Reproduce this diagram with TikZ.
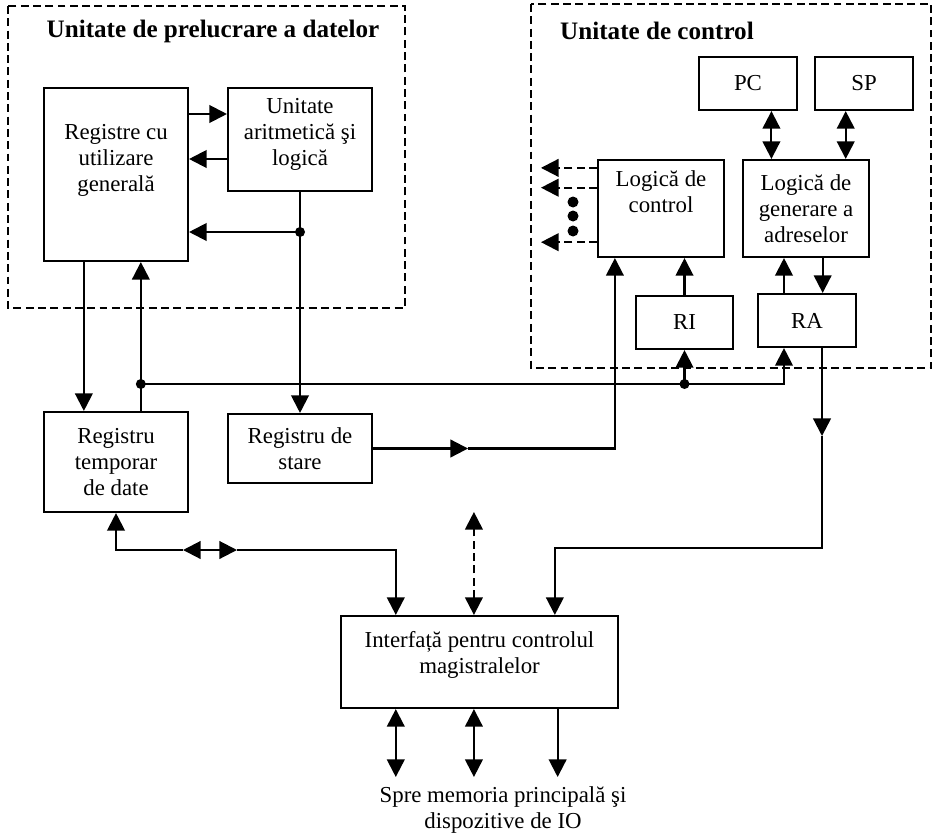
\documentclass[tikz,border=0pt]{standalone}
\usepackage{fontspec}
\setmainfont{Liberation Serif}
\usetikzlibrary{calc,arrows.meta}

\tikzset{
    txt/.style={align=center, inner sep=0pt, font=\fontsize{13pt}{14.8pt}\selectfont},
    box/.style={txt, draw, line width=1.2pt},
    arr/.style={line width=1.2pt, -{Triangle[length=10pt,width=10pt]}},
    darr/.style={line width=1.2pt, {Triangle[length=10pt,width=10pt]}-{Triangle[length=10pt,width=10pt]}},
    unitframe/.style={line width=1.2pt, dash pattern=on 4.5pt off 2.5pt},
    ctrl/.style={dash pattern=on 4.5pt off 2.5pt},
    title/.style={font=\fontsize{14.3pt}{16pt}\selectfont\bfseries},
}

\begin{document}
\begin{tikzpicture}[x=0.02cm, y=-0.02cm]
    \useasboundingbox (0,0) rectangle (945,838);

    % Dashed frames of the two units
    \draw[unitframe] (8,6) rectangle (405,308);
    \draw[unitframe] (531,4) rectangle (931,368);
    \node[title] (t1) at (213,31) {Unitate de prelucrare a datelor};
    \node[title] (t2) at (657,31) {Unitate de control};

    % Data processing unit
    \node[box, minimum width=2.88cm, minimum height=3.46cm] (rg) at (116,174.5) {Registre cu\\utilizare\\generală\\[4pt]\mbox{}};
    \node[box, minimum width=2.88cm, minimum height=2.06cm] (alu) at (300,139.5) {Unitate\\aritmetică şi\\logică\\[-6pt]\mbox{}};
    \node[box, minimum width=2.88cm, minimum height=2cm] (rt) at (116,462) {Registru\\temporar\\de date};
    \node[box, minimum width=2.88cm, minimum height=1.38cm] (rs) at (300,448.5) {Registru de\\stare};

    % Control unit
    \node[box, minimum width=1.96cm, minimum height=1.06cm] (pc) at (748,83.5) {PC};
    \node[box, minimum width=1.96cm, minimum height=1.06cm] (sp) at (864,83.5) {SP};
    \node[box, minimum width=2.52cm, minimum height=1.94cm] (lc) at (661,208.5) {Logică de\\control\\[5pt]\mbox{}};
    \node[box, minimum width=2.52cm, minimum height=1.94cm] (ag) at (806,208.5) {Logică de\\generare a\\adreselor};
    \node[box, minimum width=1.94cm, minimum height=1.06cm] (ri) at (684.5,322.5) {RI};
    \node[box, minimum width=1.96cm, minimum height=1.06cm] (ra) at (807,320.5) {RA};

    % Bus interface
    \node[box, minimum width=5.54cm, minimum height=1.84cm] (ifc) at (479.5,662) {Interfață pentru controlul\\magistralelor\\[-4pt]\mbox{}};
    \node[txt, anchor=north] (mem) at (503,786) {Spre memoria principală şi\\dispozitive de IO};

    % heights of the lines
    \coordinate (y1) at (0,114);
    \coordinate (y2) at (0,159);
    \coordinate (y3) at (0,232);
    \coordinate (bus) at (0,384);
    \coordinate (y4) at (0,550);
    \coordinate (y5) at (0,548);
    \coordinate (low) at (0,777);

    % registers <-> ALU
    \draw[arr] (rg.east |- y1) -- (alu.west |- y1);
    \draw[arr] (alu.west |- y2) -- (rg.east |- y2);
    \draw[arr] (alu.south) -- (rs.north);
    \draw[arr] (alu.south |- y3) -- (rg.east |- y3);
    \fill (alu.south |- y3) circle (0.1cm);

    % registers <-> temporary register
    \coordinate (a) at ($(rg.south west)!.28!(rg.south east)$);
    \coordinate (b) at ($(rt.north west)!.67!(rt.north east)$);
    \draw[arr] (a) -- (a |- rt.north);
    \draw[arr] (b) -- (b |- rg.south);
    \fill (b |- bus) circle (0.1cm);

    % bus to RI and RA
    \coordinate (c) at ($(ra.south west)!.27!(ra.south east)$);
    \draw[arr] (b |- bus) -| (c);
    \draw[arr] (ri.south |- bus) -- (ri.south);
    \fill (ri.south |- bus) circle (0.1cm);

    \draw[arr] (ri.north) -- (ri.north |- lc.south);
    \coordinate (d) at ($(ra.north west)!.27!(ra.north east)$);
    \draw[arr] (d) -- (d |- ag.south);
    \coordinate (e) at ($(ag.south west)!.63!(ag.south east)$);
    \draw[arr] (e) -- (e |- ra.north);

    % PC and SP
    \coordinate (p) at ($(ag.north west)!.23!(ag.north east)$);
    \coordinate (s) at ($(ag.north west)!.81!(ag.north east)$);
    \draw[darr] (p |- pc.south) -- (p);
    \draw[darr] (s |- sp.south) -- (s);

    % control signals
    \foreach \f in {.09,.29,.84}
        \draw[arr, ctrl] ($(lc.north west)!\f!(lc.south west)$) -- ++(-56,0);
    \foreach \y in {202,216,231}
        \fill (573,\y) circle (0.11cm);

    % status register to control logic
    \coordinate (g) at ($(lc.south west)!.14!(lc.south east)$);
    \coordinate (m1) at ($(rs.east)+(95,0)$);
    \draw[arr] (rs.east) -- (m1);
    \draw[arr] (m1) -| (g);

    % RA to bus interface
    \coordinate (h) at ($(ra.south west)!.65!(ra.south east)$);
    \coordinate (m2) at ($(h)+(0,88)$);
    \coordinate (k) at ($(ifc.north west)!.77!(ifc.north east)$);
    \draw[arr] (h) -- (m2);
    \draw[arr] (m2) |- (k |- y5) -- (k);

    % temporary register to bus interface
    \coordinate (l) at ($(ifc.north west)!.2!(ifc.north east)$);
    \coordinate (q1) at ($(rt.south |- y4)+(67,0)$);
    \coordinate (q2) at ($(q1)+(54,0)$);
    \draw[darr] (q1) -- (q2);
    \draw[arr] (q1) -| (rt.south);
    \draw[arr] (q2) -| (l);

    % dashed link
    \coordinate (n) at ($(ifc.north west)!.48!(ifc.north east)$);
    \coordinate (n2) at ($(n)+(0,-103)$);
    \draw[darr, ctrl] (n) -- (n2);

    % to memory and IO
    \foreach \f/\st in {.2/darr,.48/darr,.78/arr} {
        \coordinate (o) at ($(ifc.south west)!\f!(ifc.south east)$);
        \draw[\st] (o) -- (o |- low);
    }
\end{tikzpicture}
\end{document}
